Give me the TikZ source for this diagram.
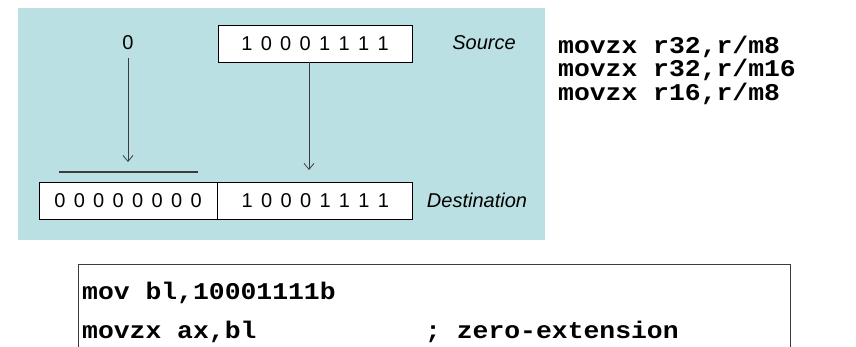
\documentclass[tikz,border=0pt]{standalone}
\usepackage{fontspec}
\setmainfont{Liberation Sans}
\newfontfamily\bitfont{Liberation Sans}[WordSpace=1.5]
\newfontfamily\codefont{Liberation Mono}[FakeStretch=1.1]
\usetikzlibrary{arrows.meta}
\definecolor{panelcyan}{RGB}{187,224,227}
\definecolor{linegray}{RGB}{60,60,60}

\begin{document}
\begin{tikzpicture}
	[x=1pt, y=-1pt, >={Straight Barb[length=6pt,width=10pt]},
	 bitbox/.style={draw=black, line width=0.9pt, fill=white, inner sep=0pt,
	                minimum height=37pt, font=\bitfont\fontsize{20}{22}\selectfont},
	 sidelabel/.style={font=\itshape\fontsize{20}{22}\selectfont},
	 codeline/.style={anchor=west, inner sep=0pt, font=\codefont\bfseries\fontsize{24}{23.5}\selectfont}]

	\useasboundingbox (0,0) rectangle (856,346);

	% cyan panel
	\fill[panelcyan] (18,8) rectangle (545,240);

	% source side
	\begin{scope}
		\node[bitbox, minimum width=194pt] (src) at (315,43.5) {1 0 0 0 1 1 1 1};
		\node[font=\fontsize{20}{22}\selectfont] (zero) at (128,43) {0};
		\node[sidelabel] (srclabel) at (484,43) {Source};
	\end{scope}

	% destination side
	\begin{scope}
		\node[bitbox, minimum width=178pt] (dsthi) at (128,200.5) {0 0 0 0 0 0 0 0};
		\node[bitbox, minimum width=195pt, anchor=west] (dstlo) at (dsthi.east) {1 0 0 0 1 1 1 1};
		\node[sidelabel] (dstlabel) at (477,200) {Destination};
		\draw[linegray, line width=1.2pt] (59,172) -- (198,172);
	\end{scope}

	% arrows
	\begin{scope}[->, linegray, line width=0.8pt]
		\coordinate (ltip) at (128,162);
		\coordinate (rtip) at (309,170);
		\draw (zero.south) ++(0,4) -- (ltip);
		\draw (src.south -| rtip) -- (rtip);
	\end{scope}

	% instruction forms
	\node[codeline, align=left] (forms) at (558,70)
		{movzx r32,r/m8\\movzx r32,r/m16\\movzx r16,r/m8};

	% example code
	\begin{scope}
		\draw[linegray, line width=0.9pt] (78,360) |- (790,264) -- (790,360);
		\node[codeline] (codea) at (82,293) {mov bl,10001111b};
		\node[codeline] (codeb) at (82,332) {movzx ax,bl};
		\node[codeline] (comment) at (425,332) {; zero-extension};
	\end{scope}

\end{tikzpicture}
\end{document}
